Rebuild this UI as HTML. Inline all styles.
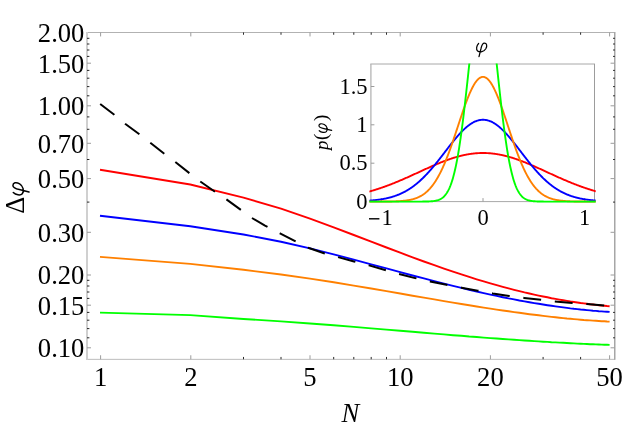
<!DOCTYPE html>
<html><head><meta charset="utf-8"><title>plot</title>
<style>html,body{margin:0;padding:0;background:#fff;}svg{display:block;will-change:transform;}text{font-family:"Liberation Serif",serif;fill:#000;}</style></head><body>
<svg width="623" height="428" viewBox="0 0 623 428">
<rect x="0" y="0" width="623" height="428" fill="#fff"/>
<clipPath id="ic"><rect x="369.4" y="63.5" width="226.3" height="139.6"/></clipPath>
<rect x="370.9" y="64.0" width="223.60000000000002" height="137.6" fill="#fff" stroke="none"/>
<line x1="370.29999999999995" x2="595.0" y1="64.0" y2="64.0" stroke="#a8a8a8" stroke-width="1"/>
<line x1="370.29999999999995" x2="595.0" y1="201.6" y2="201.6" stroke="#a8a8a8" stroke-width="1"/>
<line x1="370.9" x2="370.9" y1="64.0" y2="201.6" stroke="#b4b4b4" stroke-width="1.3"/>
<line x1="594.5" x2="594.5" y1="64.0" y2="201.6" stroke="#9c9c9c" stroke-width="1"/>
<line x1="370.9" x2="374.4" y1="163.2" y2="163.2" stroke="#9c9c9c" stroke-width="1"/>
<line x1="370.9" x2="374.4" y1="124.8" y2="124.8" stroke="#9c9c9c" stroke-width="1"/>
<line x1="370.9" x2="374.4" y1="86.5" y2="86.5" stroke="#9c9c9c" stroke-width="1"/>
<line x1="381.3" x2="381.3" y1="201.6" y2="198.1" stroke="#9c9c9c" stroke-width="1"/>
<line x1="483.0" x2="483.0" y1="201.6" y2="198.1" stroke="#9c9c9c" stroke-width="1"/>
<line x1="584.7" x2="584.7" y1="201.6" y2="198.1" stroke="#9c9c9c" stroke-width="1"/>
<path d="M368.59,191.73 L369.11,191.59 L369.63,191.44 L370.15,191.30 L370.67,191.15 L371.19,191.00 L371.71,190.85 L372.23,190.70 L372.75,190.54 L373.27,190.39 L373.79,190.23 L374.31,190.07 L374.83,189.91 L375.35,189.75 L375.87,189.59 L376.39,189.43 L376.91,189.26 L377.43,189.09 L377.95,188.93 L378.47,188.76 L378.99,188.59 L379.51,188.41 L380.03,188.24 L380.55,188.07 L381.07,187.89 L381.59,187.71 L382.11,187.53 L382.63,187.35 L383.15,187.17 L383.67,186.99 L384.19,186.80 L384.71,186.62 L385.23,186.43 L385.75,186.24 L386.27,186.05 L386.79,185.86 L387.31,185.67 L387.83,185.47 L388.35,185.28 L388.87,185.08 L389.39,184.88 L389.91,184.69 L390.43,184.49 L390.95,184.28 L391.47,184.08 L391.99,183.88 L392.51,183.67 L393.03,183.47 L393.55,183.26 L394.07,183.05 L394.59,182.84 L395.11,182.63 L395.63,182.42 L396.15,182.21 L396.67,181.99 L397.19,181.78 L397.71,181.56 L398.23,181.34 L398.75,181.13 L399.27,180.91 L399.79,180.69 L400.31,180.47 L400.83,180.24 L401.35,180.02 L401.87,179.80 L402.39,179.57 L402.91,179.35 L403.43,179.12 L403.95,178.90 L404.47,178.67 L404.99,178.44 L405.51,178.21 L406.03,177.98 L406.55,177.75 L407.07,177.52 L407.59,177.29 L408.11,177.05 L408.63,176.82 L409.15,176.59 L409.67,176.35 L410.19,176.12 L410.71,175.88 L411.23,175.65 L411.75,175.41 L412.27,175.17 L412.79,174.94 L413.31,174.70 L413.83,174.46 L414.35,174.22 L414.87,173.99 L415.39,173.75 L415.91,173.51 L416.43,173.27 L416.95,173.03 L417.47,172.79 L417.99,172.55 L418.51,172.31 L419.03,172.07 L419.55,171.83 L420.07,171.60 L420.59,171.36 L421.11,171.12 L421.63,170.88 L422.15,170.64 L422.67,170.40 L423.19,170.16 L423.71,169.92 L424.23,169.69 L424.75,169.45 L425.27,169.21 L425.79,168.98 L426.31,168.74 L426.83,168.50 L427.35,168.27 L427.87,168.03 L428.39,167.80 L428.91,167.57 L429.43,167.33 L429.95,167.10 L430.47,166.87 L430.99,166.64 L431.51,166.41 L432.03,166.18 L432.55,165.95 L433.07,165.72 L433.59,165.50 L434.11,165.27 L434.63,165.05 L435.15,164.82 L435.67,164.60 L436.19,164.38 L436.71,164.16 L437.24,163.94 L437.76,163.72 L438.28,163.51 L438.80,163.29 L439.32,163.08 L439.84,162.87 L440.36,162.66 L440.88,162.45 L441.40,162.24 L441.92,162.03 L442.44,161.83 L442.96,161.62 L443.48,161.42 L444.00,161.22 L444.52,161.02 L445.04,160.82 L445.56,160.63 L446.08,160.43 L446.60,160.24 L447.12,160.05 L447.64,159.87 L448.16,159.68 L448.68,159.50 L449.20,159.31 L449.72,159.13 L450.24,158.96 L450.76,158.78 L451.28,158.61 L451.80,158.43 L452.32,158.26 L452.84,158.10 L453.36,157.93 L453.88,157.77 L454.40,157.61 L454.92,157.45 L455.44,157.29 L455.96,157.14 L456.48,156.99 L457.00,156.84 L457.52,156.69 L458.04,156.55 L458.56,156.41 L459.08,156.27 L459.60,156.13 L460.12,156.00 L460.64,155.87 L461.16,155.74 L461.68,155.62 L462.20,155.49 L462.72,155.37 L463.24,155.26 L463.76,155.14 L464.28,155.03 L464.80,154.92 L465.32,154.81 L465.84,154.71 L466.36,154.61 L466.88,154.51 L467.40,154.42 L467.92,154.33 L468.44,154.24 L468.96,154.15 L469.48,154.07 L470.00,153.99 L470.52,153.91 L471.04,153.84 L471.56,153.77 L472.08,153.70 L472.60,153.63 L473.12,153.57 L473.64,153.51 L474.16,153.46 L474.68,153.41 L475.20,153.36 L475.72,153.31 L476.24,153.27 L476.76,153.23 L477.28,153.19 L477.80,153.16 L478.32,153.13 L478.84,153.10 L479.36,153.08 L479.88,153.06 L480.40,153.04 L480.92,153.02 L481.44,153.01 L481.96,153.01 L482.48,153.00 L483.00,153.00 L483.52,153.00 L484.04,153.01 L484.56,153.01 L485.08,153.02 L485.60,153.04 L486.12,153.06 L486.64,153.08 L487.16,153.10 L487.68,153.13 L488.20,153.16 L488.72,153.19 L489.24,153.23 L489.76,153.27 L490.28,153.31 L490.80,153.36 L491.32,153.41 L491.84,153.46 L492.36,153.51 L492.88,153.57 L493.40,153.63 L493.92,153.70 L494.44,153.77 L494.96,153.84 L495.48,153.91 L496.00,153.99 L496.52,154.07 L497.04,154.15 L497.56,154.24 L498.08,154.33 L498.60,154.42 L499.12,154.51 L499.64,154.61 L500.16,154.71 L500.68,154.81 L501.20,154.92 L501.72,155.03 L502.24,155.14 L502.76,155.26 L503.28,155.37 L503.80,155.49 L504.32,155.62 L504.84,155.74 L505.36,155.87 L505.88,156.00 L506.40,156.13 L506.92,156.27 L507.44,156.41 L507.96,156.55 L508.48,156.69 L509.00,156.84 L509.52,156.99 L510.04,157.14 L510.56,157.29 L511.08,157.45 L511.60,157.61 L512.12,157.77 L512.64,157.93 L513.16,158.10 L513.68,158.26 L514.20,158.43 L514.72,158.61 L515.24,158.78 L515.76,158.96 L516.28,159.13 L516.80,159.31 L517.32,159.50 L517.84,159.68 L518.36,159.87 L518.88,160.05 L519.40,160.24 L519.92,160.43 L520.44,160.63 L520.96,160.82 L521.48,161.02 L522.00,161.22 L522.52,161.42 L523.04,161.62 L523.56,161.83 L524.08,162.03 L524.60,162.24 L525.12,162.45 L525.64,162.66 L526.16,162.87 L526.68,163.08 L527.20,163.29 L527.72,163.51 L528.24,163.72 L528.76,163.94 L529.29,164.16 L529.81,164.38 L530.33,164.60 L530.85,164.82 L531.37,165.05 L531.89,165.27 L532.41,165.50 L532.93,165.72 L533.45,165.95 L533.97,166.18 L534.49,166.41 L535.01,166.64 L535.53,166.87 L536.05,167.10 L536.57,167.33 L537.09,167.57 L537.61,167.80 L538.13,168.03 L538.65,168.27 L539.17,168.50 L539.69,168.74 L540.21,168.98 L540.73,169.21 L541.25,169.45 L541.77,169.69 L542.29,169.92 L542.81,170.16 L543.33,170.40 L543.85,170.64 L544.37,170.88 L544.89,171.12 L545.41,171.36 L545.93,171.60 L546.45,171.83 L546.97,172.07 L547.49,172.31 L548.01,172.55 L548.53,172.79 L549.05,173.03 L549.57,173.27 L550.09,173.51 L550.61,173.75 L551.13,173.99 L551.65,174.22 L552.17,174.46 L552.69,174.70 L553.21,174.94 L553.73,175.17 L554.25,175.41 L554.77,175.65 L555.29,175.88 L555.81,176.12 L556.33,176.35 L556.85,176.59 L557.37,176.82 L557.89,177.05 L558.41,177.29 L558.93,177.52 L559.45,177.75 L559.97,177.98 L560.49,178.21 L561.01,178.44 L561.53,178.67 L562.05,178.90 L562.57,179.12 L563.09,179.35 L563.61,179.57 L564.13,179.80 L564.65,180.02 L565.17,180.24 L565.69,180.47 L566.21,180.69 L566.73,180.91 L567.25,181.13 L567.77,181.34 L568.29,181.56 L568.81,181.78 L569.33,181.99 L569.85,182.21 L570.37,182.42 L570.89,182.63 L571.41,182.84 L571.93,183.05 L572.45,183.26 L572.97,183.47 L573.49,183.67 L574.01,183.88 L574.53,184.08 L575.05,184.28 L575.57,184.49 L576.09,184.69 L576.61,184.88 L577.13,185.08 L577.65,185.28 L578.17,185.47 L578.69,185.67 L579.21,185.86 L579.73,186.05 L580.25,186.24 L580.77,186.43 L581.29,186.62 L581.81,186.80 L582.33,186.99 L582.85,187.17 L583.37,187.35 L583.89,187.53 L584.41,187.71 L584.93,187.89 L585.45,188.07 L585.97,188.24 L586.49,188.41 L587.01,188.59 L587.53,188.76 L588.05,188.93 L588.57,189.09 L589.09,189.26 L589.61,189.43 L590.13,189.59 L590.65,189.75 L591.17,189.91 L591.69,190.07 L592.21,190.23 L592.73,190.39 L593.25,190.54 L593.77,190.70 L594.29,190.85 L594.81,191.00 L595.33,191.15 L595.85,191.30 L596.37,191.44 L596.89,191.59 L597.41,191.73" fill="none" stroke="#ff0000" stroke-width="1.9" stroke-linejoin="round" clip-path="url(#ic)"/>
<path d="M368.59,200.71 L369.11,200.67 L369.63,200.63 L370.15,200.59 L370.67,200.55 L371.19,200.51 L371.71,200.46 L372.23,200.42 L372.75,200.37 L373.27,200.32 L373.79,200.27 L374.31,200.21 L374.83,200.16 L375.35,200.10 L375.87,200.04 L376.39,199.98 L376.91,199.92 L377.43,199.85 L377.95,199.79 L378.47,199.72 L378.99,199.65 L379.51,199.57 L380.03,199.50 L380.55,199.42 L381.07,199.34 L381.59,199.25 L382.11,199.16 L382.63,199.07 L383.15,198.98 L383.67,198.89 L384.19,198.79 L384.71,198.69 L385.23,198.58 L385.75,198.48 L386.27,198.36 L386.79,198.25 L387.31,198.13 L387.83,198.01 L388.35,197.89 L388.87,197.76 L389.39,197.63 L389.91,197.49 L390.43,197.35 L390.95,197.21 L391.47,197.06 L391.99,196.91 L392.51,196.76 L393.03,196.60 L393.55,196.43 L394.07,196.27 L394.59,196.09 L395.11,195.92 L395.63,195.73 L396.15,195.55 L396.67,195.36 L397.19,195.16 L397.71,194.96 L398.23,194.75 L398.75,194.54 L399.27,194.33 L399.79,194.11 L400.31,193.88 L400.83,193.65 L401.35,193.41 L401.87,193.17 L402.39,192.92 L402.91,192.66 L403.43,192.40 L403.95,192.14 L404.47,191.87 L404.99,191.59 L405.51,191.31 L406.03,191.02 L406.55,190.72 L407.07,190.42 L407.59,190.11 L408.11,189.80 L408.63,189.48 L409.15,189.15 L409.67,188.82 L410.19,188.48 L410.71,188.13 L411.23,187.78 L411.75,187.42 L412.27,187.05 L412.79,186.68 L413.31,186.30 L413.83,185.91 L414.35,185.52 L414.87,185.12 L415.39,184.71 L415.91,184.30 L416.43,183.88 L416.95,183.45 L417.47,183.02 L417.99,182.58 L418.51,182.13 L419.03,181.68 L419.55,181.21 L420.07,180.75 L420.59,180.27 L421.11,179.79 L421.63,179.30 L422.15,178.81 L422.67,178.31 L423.19,177.80 L423.71,177.28 L424.23,176.76 L424.75,176.24 L425.27,175.70 L425.79,175.16 L426.31,174.62 L426.83,174.06 L427.35,173.51 L427.87,172.94 L428.39,172.37 L428.91,171.80 L429.43,171.21 L429.95,170.63 L430.47,170.03 L430.99,169.44 L431.51,168.83 L432.03,168.22 L432.55,167.61 L433.07,166.99 L433.59,166.37 L434.11,165.74 L434.63,165.11 L435.15,164.48 L435.67,163.84 L436.19,163.19 L436.71,162.55 L437.24,161.89 L437.76,161.24 L438.28,160.58 L438.80,159.92 L439.32,159.26 L439.84,158.59 L440.36,157.93 L440.88,157.26 L441.40,156.59 L441.92,155.91 L442.44,155.24 L442.96,154.56 L443.48,153.88 L444.00,153.21 L444.52,152.53 L445.04,151.85 L445.56,151.17 L446.08,150.49 L446.60,149.82 L447.12,149.14 L447.64,148.47 L448.16,147.79 L448.68,147.12 L449.20,146.45 L449.72,145.78 L450.24,145.11 L450.76,144.45 L451.28,143.79 L451.80,143.13 L452.32,142.48 L452.84,141.83 L453.36,141.19 L453.88,140.55 L454.40,139.91 L454.92,139.28 L455.44,138.65 L455.96,138.03 L456.48,137.42 L457.00,136.81 L457.52,136.21 L458.04,135.61 L458.56,135.03 L459.08,134.45 L459.60,133.87 L460.12,133.31 L460.64,132.75 L461.16,132.20 L461.68,131.66 L462.20,131.13 L462.72,130.61 L463.24,130.10 L463.76,129.59 L464.28,129.10 L464.80,128.62 L465.32,128.15 L465.84,127.69 L466.36,127.24 L466.88,126.80 L467.40,126.37 L467.92,125.95 L468.44,125.55 L468.96,125.16 L469.48,124.78 L470.00,124.41 L470.52,124.06 L471.04,123.72 L471.56,123.39 L472.08,123.08 L472.60,122.77 L473.12,122.49 L473.64,122.21 L474.16,121.95 L474.68,121.71 L475.20,121.48 L475.72,121.26 L476.24,121.06 L476.76,120.87 L477.28,120.69 L477.80,120.54 L478.32,120.39 L478.84,120.26 L479.36,120.15 L479.88,120.05 L480.40,119.97 L480.92,119.90 L481.44,119.84 L481.96,119.81 L482.48,119.78 L483.00,119.78 L483.52,119.78 L484.04,119.81 L484.56,119.84 L485.08,119.90 L485.60,119.97 L486.12,120.05 L486.64,120.15 L487.16,120.26 L487.68,120.39 L488.20,120.54 L488.72,120.69 L489.24,120.87 L489.76,121.06 L490.28,121.26 L490.80,121.48 L491.32,121.71 L491.84,121.95 L492.36,122.21 L492.88,122.49 L493.40,122.77 L493.92,123.08 L494.44,123.39 L494.96,123.72 L495.48,124.06 L496.00,124.41 L496.52,124.78 L497.04,125.16 L497.56,125.55 L498.08,125.95 L498.60,126.37 L499.12,126.80 L499.64,127.24 L500.16,127.69 L500.68,128.15 L501.20,128.62 L501.72,129.10 L502.24,129.59 L502.76,130.10 L503.28,130.61 L503.80,131.13 L504.32,131.66 L504.84,132.20 L505.36,132.75 L505.88,133.31 L506.40,133.87 L506.92,134.45 L507.44,135.03 L507.96,135.61 L508.48,136.21 L509.00,136.81 L509.52,137.42 L510.04,138.03 L510.56,138.65 L511.08,139.28 L511.60,139.91 L512.12,140.55 L512.64,141.19 L513.16,141.83 L513.68,142.48 L514.20,143.13 L514.72,143.79 L515.24,144.45 L515.76,145.11 L516.28,145.78 L516.80,146.45 L517.32,147.12 L517.84,147.79 L518.36,148.47 L518.88,149.14 L519.40,149.82 L519.92,150.49 L520.44,151.17 L520.96,151.85 L521.48,152.53 L522.00,153.21 L522.52,153.88 L523.04,154.56 L523.56,155.24 L524.08,155.91 L524.60,156.59 L525.12,157.26 L525.64,157.93 L526.16,158.59 L526.68,159.26 L527.20,159.92 L527.72,160.58 L528.24,161.24 L528.76,161.89 L529.29,162.55 L529.81,163.19 L530.33,163.84 L530.85,164.48 L531.37,165.11 L531.89,165.74 L532.41,166.37 L532.93,166.99 L533.45,167.61 L533.97,168.22 L534.49,168.83 L535.01,169.44 L535.53,170.03 L536.05,170.63 L536.57,171.21 L537.09,171.80 L537.61,172.37 L538.13,172.94 L538.65,173.51 L539.17,174.06 L539.69,174.62 L540.21,175.16 L540.73,175.70 L541.25,176.24 L541.77,176.76 L542.29,177.28 L542.81,177.80 L543.33,178.31 L543.85,178.81 L544.37,179.30 L544.89,179.79 L545.41,180.27 L545.93,180.75 L546.45,181.21 L546.97,181.68 L547.49,182.13 L548.01,182.58 L548.53,183.02 L549.05,183.45 L549.57,183.88 L550.09,184.30 L550.61,184.71 L551.13,185.12 L551.65,185.52 L552.17,185.91 L552.69,186.30 L553.21,186.68 L553.73,187.05 L554.25,187.42 L554.77,187.78 L555.29,188.13 L555.81,188.48 L556.33,188.82 L556.85,189.15 L557.37,189.48 L557.89,189.80 L558.41,190.11 L558.93,190.42 L559.45,190.72 L559.97,191.02 L560.49,191.31 L561.01,191.59 L561.53,191.87 L562.05,192.14 L562.57,192.40 L563.09,192.66 L563.61,192.92 L564.13,193.17 L564.65,193.41 L565.17,193.65 L565.69,193.88 L566.21,194.11 L566.73,194.33 L567.25,194.54 L567.77,194.75 L568.29,194.96 L568.81,195.16 L569.33,195.36 L569.85,195.55 L570.37,195.73 L570.89,195.92 L571.41,196.09 L571.93,196.27 L572.45,196.43 L572.97,196.60 L573.49,196.76 L574.01,196.91 L574.53,197.06 L575.05,197.21 L575.57,197.35 L576.09,197.49 L576.61,197.63 L577.13,197.76 L577.65,197.89 L578.17,198.01 L578.69,198.13 L579.21,198.25 L579.73,198.36 L580.25,198.48 L580.77,198.58 L581.29,198.69 L581.81,198.79 L582.33,198.89 L582.85,198.98 L583.37,199.07 L583.89,199.16 L584.41,199.25 L584.93,199.34 L585.45,199.42 L585.97,199.50 L586.49,199.57 L587.01,199.65 L587.53,199.72 L588.05,199.79 L588.57,199.85 L589.09,199.92 L589.61,199.98 L590.13,200.04 L590.65,200.10 L591.17,200.16 L591.69,200.21 L592.21,200.27 L592.73,200.32 L593.25,200.37 L593.77,200.42 L594.29,200.46 L594.81,200.51 L595.33,200.55 L595.85,200.59 L596.37,200.63 L596.89,200.67 L597.41,200.71" fill="none" stroke="#0000ff" stroke-width="1.9" stroke-linejoin="round" clip-path="url(#ic)"/>
<path d="M368.59,201.60 L369.11,201.60 L369.63,201.60 L370.15,201.60 L370.67,201.59 L371.19,201.59 L371.71,201.59 L372.23,201.59 L372.75,201.59 L373.27,201.59 L373.79,201.59 L374.31,201.59 L374.83,201.59 L375.35,201.59 L375.87,201.59 L376.39,201.59 L376.91,201.59 L377.43,201.58 L377.95,201.58 L378.47,201.58 L378.99,201.58 L379.51,201.58 L380.03,201.57 L380.55,201.57 L381.07,201.57 L381.59,201.57 L382.11,201.56 L382.63,201.56 L383.15,201.56 L383.67,201.55 L384.19,201.55 L384.71,201.55 L385.23,201.54 L385.75,201.54 L386.27,201.53 L386.79,201.53 L387.31,201.52 L387.83,201.51 L388.35,201.51 L388.87,201.50 L389.39,201.49 L389.91,201.48 L390.43,201.47 L390.95,201.46 L391.47,201.45 L391.99,201.44 L392.51,201.42 L393.03,201.41 L393.55,201.40 L394.07,201.38 L394.59,201.36 L395.11,201.35 L395.63,201.33 L396.15,201.31 L396.67,201.28 L397.19,201.26 L397.71,201.24 L398.23,201.21 L398.75,201.18 L399.27,201.15 L399.79,201.12 L400.31,201.08 L400.83,201.05 L401.35,201.01 L401.87,200.96 L402.39,200.92 L402.91,200.87 L403.43,200.82 L403.95,200.77 L404.47,200.71 L404.99,200.65 L405.51,200.59 L406.03,200.52 L406.55,200.45 L407.07,200.38 L407.59,200.30 L408.11,200.21 L408.63,200.12 L409.15,200.03 L409.67,199.93 L410.19,199.82 L410.71,199.71 L411.23,199.60 L411.75,199.47 L412.27,199.34 L412.79,199.21 L413.31,199.06 L413.83,198.91 L414.35,198.75 L414.87,198.59 L415.39,198.41 L415.91,198.23 L416.43,198.03 L416.95,197.83 L417.47,197.62 L417.99,197.39 L418.51,197.16 L419.03,196.92 L419.55,196.66 L420.07,196.39 L420.59,196.11 L421.11,195.82 L421.63,195.52 L422.15,195.20 L422.67,194.87 L423.19,194.52 L423.71,194.16 L424.23,193.78 L424.75,193.39 L425.27,192.99 L425.79,192.56 L426.31,192.12 L426.83,191.67 L427.35,191.19 L427.87,190.70 L428.39,190.19 L428.91,189.66 L429.43,189.11 L429.95,188.55 L430.47,187.96 L430.99,187.35 L431.51,186.72 L432.03,186.07 L432.55,185.40 L433.07,184.71 L433.59,183.99 L434.11,183.26 L434.63,182.50 L435.15,181.72 L435.67,180.91 L436.19,180.08 L436.71,179.23 L437.24,178.35 L437.76,177.45 L438.28,176.53 L438.80,175.58 L439.32,174.61 L439.84,173.62 L440.36,172.60 L440.88,171.55 L441.40,170.48 L441.92,169.39 L442.44,168.28 L442.96,167.14 L443.48,165.97 L444.00,164.79 L444.52,163.58 L445.04,162.35 L445.56,161.09 L446.08,159.82 L446.60,158.52 L447.12,157.20 L447.64,155.86 L448.16,154.50 L448.68,153.12 L449.20,151.72 L449.72,150.31 L450.24,148.88 L450.76,147.43 L451.28,145.96 L451.80,144.48 L452.32,142.99 L452.84,141.48 L453.36,139.96 L453.88,138.43 L454.40,136.89 L454.92,135.35 L455.44,133.79 L455.96,132.23 L456.48,130.66 L457.00,129.09 L457.52,127.51 L458.04,125.94 L458.56,124.36 L459.08,122.79 L459.60,121.22 L460.12,119.65 L460.64,118.09 L461.16,116.54 L461.68,114.99 L462.20,113.46 L462.72,111.93 L463.24,110.42 L463.76,108.93 L464.28,107.45 L464.80,105.99 L465.32,104.54 L465.84,103.12 L466.36,101.72 L466.88,100.35 L467.40,99.00 L467.92,97.68 L468.44,96.39 L468.96,95.12 L469.48,93.89 L470.00,92.69 L470.52,91.53 L471.04,90.40 L471.56,89.31 L472.08,88.26 L472.60,87.25 L473.12,86.27 L473.64,85.34 L474.16,84.46 L474.68,83.62 L475.20,82.82 L475.72,82.07 L476.24,81.37 L476.76,80.72 L477.28,80.11 L477.80,79.56 L478.32,79.05 L478.84,78.60 L479.36,78.20 L479.88,77.85 L480.40,77.55 L480.92,77.31 L481.44,77.12 L481.96,76.99 L482.48,76.91 L483.00,76.88 L483.52,76.91 L484.04,76.99 L484.56,77.12 L485.08,77.31 L485.60,77.55 L486.12,77.85 L486.64,78.20 L487.16,78.60 L487.68,79.05 L488.20,79.56 L488.72,80.11 L489.24,80.72 L489.76,81.37 L490.28,82.07 L490.80,82.82 L491.32,83.62 L491.84,84.46 L492.36,85.34 L492.88,86.27 L493.40,87.25 L493.92,88.26 L494.44,89.31 L494.96,90.40 L495.48,91.53 L496.00,92.69 L496.52,93.89 L497.04,95.12 L497.56,96.39 L498.08,97.68 L498.60,99.00 L499.12,100.35 L499.64,101.72 L500.16,103.12 L500.68,104.54 L501.20,105.99 L501.72,107.45 L502.24,108.93 L502.76,110.42 L503.28,111.93 L503.80,113.46 L504.32,114.99 L504.84,116.54 L505.36,118.09 L505.88,119.65 L506.40,121.22 L506.92,122.79 L507.44,124.36 L507.96,125.94 L508.48,127.51 L509.00,129.09 L509.52,130.66 L510.04,132.23 L510.56,133.79 L511.08,135.35 L511.60,136.89 L512.12,138.43 L512.64,139.96 L513.16,141.48 L513.68,142.99 L514.20,144.48 L514.72,145.96 L515.24,147.43 L515.76,148.88 L516.28,150.31 L516.80,151.72 L517.32,153.12 L517.84,154.50 L518.36,155.86 L518.88,157.20 L519.40,158.52 L519.92,159.82 L520.44,161.09 L520.96,162.35 L521.48,163.58 L522.00,164.79 L522.52,165.97 L523.04,167.14 L523.56,168.28 L524.08,169.39 L524.60,170.48 L525.12,171.55 L525.64,172.60 L526.16,173.62 L526.68,174.61 L527.20,175.58 L527.72,176.53 L528.24,177.45 L528.76,178.35 L529.29,179.23 L529.81,180.08 L530.33,180.91 L530.85,181.72 L531.37,182.50 L531.89,183.26 L532.41,183.99 L532.93,184.71 L533.45,185.40 L533.97,186.07 L534.49,186.72 L535.01,187.35 L535.53,187.96 L536.05,188.55 L536.57,189.11 L537.09,189.66 L537.61,190.19 L538.13,190.70 L538.65,191.19 L539.17,191.67 L539.69,192.12 L540.21,192.56 L540.73,192.99 L541.25,193.39 L541.77,193.78 L542.29,194.16 L542.81,194.52 L543.33,194.87 L543.85,195.20 L544.37,195.52 L544.89,195.82 L545.41,196.11 L545.93,196.39 L546.45,196.66 L546.97,196.92 L547.49,197.16 L548.01,197.39 L548.53,197.62 L549.05,197.83 L549.57,198.03 L550.09,198.23 L550.61,198.41 L551.13,198.59 L551.65,198.75 L552.17,198.91 L552.69,199.06 L553.21,199.21 L553.73,199.34 L554.25,199.47 L554.77,199.60 L555.29,199.71 L555.81,199.82 L556.33,199.93 L556.85,200.03 L557.37,200.12 L557.89,200.21 L558.41,200.30 L558.93,200.38 L559.45,200.45 L559.97,200.52 L560.49,200.59 L561.01,200.65 L561.53,200.71 L562.05,200.77 L562.57,200.82 L563.09,200.87 L563.61,200.92 L564.13,200.96 L564.65,201.01 L565.17,201.05 L565.69,201.08 L566.21,201.12 L566.73,201.15 L567.25,201.18 L567.77,201.21 L568.29,201.24 L568.81,201.26 L569.33,201.28 L569.85,201.31 L570.37,201.33 L570.89,201.35 L571.41,201.36 L571.93,201.38 L572.45,201.40 L572.97,201.41 L573.49,201.42 L574.01,201.44 L574.53,201.45 L575.05,201.46 L575.57,201.47 L576.09,201.48 L576.61,201.49 L577.13,201.50 L577.65,201.51 L578.17,201.51 L578.69,201.52 L579.21,201.53 L579.73,201.53 L580.25,201.54 L580.77,201.54 L581.29,201.55 L581.81,201.55 L582.33,201.55 L582.85,201.56 L583.37,201.56 L583.89,201.56 L584.41,201.57 L584.93,201.57 L585.45,201.57 L585.97,201.57 L586.49,201.58 L587.01,201.58 L587.53,201.58 L588.05,201.58 L588.57,201.58 L589.09,201.59 L589.61,201.59 L590.13,201.59 L590.65,201.59 L591.17,201.59 L591.69,201.59 L592.21,201.59 L592.73,201.59 L593.25,201.59 L593.77,201.59 L594.29,201.59 L594.81,201.59 L595.33,201.59 L595.85,201.60 L596.37,201.60 L596.89,201.60 L597.41,201.60" fill="none" stroke="#ff8000" stroke-width="1.9" stroke-linejoin="round" clip-path="url(#ic)"/>
<path d="M368.59,201.60 L369.11,201.60 L369.63,201.60 L370.15,201.60 L370.67,201.60 L371.19,201.60 L371.71,201.60 L372.23,201.60 L372.75,201.60 L373.27,201.60 L373.79,201.60 L374.31,201.60 L374.83,201.60 L375.35,201.60 L375.87,201.60 L376.39,201.60 L376.91,201.60 L377.43,201.60 L377.95,201.60 L378.47,201.60 L378.99,201.60 L379.51,201.60 L380.03,201.60 L380.55,201.60 L381.07,201.60 L381.59,201.60 L382.11,201.60 L382.63,201.60 L383.15,201.60 L383.67,201.60 L384.19,201.60 L384.71,201.60 L385.23,201.60 L385.75,201.60 L386.27,201.60 L386.79,201.60 L387.31,201.60 L387.83,201.60 L388.35,201.60 L388.87,201.60 L389.39,201.60 L389.91,201.60 L390.43,201.60 L390.95,201.60 L391.47,201.60 L391.99,201.60 L392.51,201.60 L393.03,201.60 L393.55,201.60 L394.07,201.60 L394.59,201.60 L395.11,201.60 L395.63,201.60 L396.15,201.60 L396.67,201.60 L397.19,201.60 L397.71,201.60 L398.23,201.60 L398.75,201.60 L399.27,201.60 L399.79,201.60 L400.31,201.60 L400.83,201.60 L401.35,201.60 L401.87,201.60 L402.39,201.60 L402.91,201.60 L403.43,201.60 L403.95,201.60 L404.47,201.60 L404.99,201.60 L405.51,201.60 L406.03,201.60 L406.55,201.60 L407.07,201.60 L407.59,201.60 L408.11,201.60 L408.63,201.60 L409.15,201.60 L409.67,201.60 L410.19,201.60 L410.71,201.60 L411.23,201.60 L411.75,201.60 L412.27,201.60 L412.79,201.60 L413.31,201.60 L413.83,201.60 L414.35,201.60 L414.87,201.60 L415.39,201.60 L415.91,201.60 L416.43,201.60 L416.95,201.60 L417.47,201.59 L417.99,201.59 L418.51,201.59 L419.03,201.59 L419.55,201.59 L420.07,201.59 L420.59,201.59 L421.11,201.58 L421.63,201.58 L422.15,201.58 L422.67,201.57 L423.19,201.57 L423.71,201.56 L424.23,201.56 L424.75,201.55 L425.27,201.54 L425.79,201.53 L426.31,201.52 L426.83,201.51 L427.35,201.49 L427.87,201.48 L428.39,201.46 L428.91,201.44 L429.43,201.42 L429.95,201.39 L430.47,201.36 L430.99,201.32 L431.51,201.28 L432.03,201.24 L432.55,201.19 L433.07,201.13 L433.59,201.07 L434.11,201.00 L434.63,200.92 L435.15,200.83 L435.67,200.73 L436.19,200.62 L436.71,200.49 L437.24,200.35 L437.76,200.20 L438.28,200.03 L438.80,199.84 L439.32,199.62 L439.84,199.39 L440.36,199.13 L440.88,198.85 L441.40,198.54 L441.92,198.20 L442.44,197.82 L442.96,197.41 L443.48,196.96 L444.00,196.47 L444.52,195.93 L445.04,195.35 L445.56,194.71 L446.08,194.02 L446.60,193.28 L447.12,192.47 L447.64,191.59 L448.16,190.65 L448.68,189.64 L449.20,188.54 L449.72,187.37 L450.24,186.11 L450.76,184.76 L451.28,183.32 L451.80,181.79 L452.32,180.15 L452.84,178.41 L453.36,176.56 L453.88,174.60 L454.40,172.53 L454.92,170.33 L455.44,168.02 L455.96,165.58 L456.48,163.02 L457.00,160.33 L457.52,157.52 L458.04,154.57 L458.56,151.49 L459.08,148.29 L459.60,144.95 L460.12,141.48 L460.64,137.89 L461.16,134.18 L461.68,130.34 L462.20,126.38 L462.72,122.31 L463.24,118.13 L463.76,113.85 L464.28,109.47 L464.80,105.00 L465.32,100.45 L465.84,95.83 L466.36,91.14 L466.88,86.40 L467.40,81.62 L467.92,76.80 L468.44,71.96 L468.96,67.12 L469.48,62.28 L470.00,57.46 L470.52,52.67 L471.04,47.92 L471.56,43.24 L472.08,38.63 L472.60,34.11 L473.12,29.70 L473.64,25.40 L474.16,21.24 L474.68,17.23 L475.20,13.38 L475.72,9.70 L476.24,6.21 L476.76,2.93 L477.28,-0.15 L477.80,-2.99 L478.32,-5.60 L478.84,-7.97 L479.36,-10.07 L479.88,-11.92 L480.40,-13.49 L480.92,-14.78 L481.44,-15.80 L481.96,-16.52 L482.48,-16.96 L483.00,-17.11 L483.52,-16.96 L484.04,-16.52 L484.56,-15.80 L485.08,-14.78 L485.60,-13.49 L486.12,-11.92 L486.64,-10.07 L487.16,-7.97 L487.68,-5.60 L488.20,-2.99 L488.72,-0.15 L489.24,2.93 L489.76,6.21 L490.28,9.70 L490.80,13.38 L491.32,17.23 L491.84,21.24 L492.36,25.40 L492.88,29.70 L493.40,34.11 L493.92,38.63 L494.44,43.24 L494.96,47.92 L495.48,52.67 L496.00,57.46 L496.52,62.28 L497.04,67.12 L497.56,71.96 L498.08,76.80 L498.60,81.62 L499.12,86.40 L499.64,91.14 L500.16,95.83 L500.68,100.45 L501.20,105.00 L501.72,109.47 L502.24,113.85 L502.76,118.13 L503.28,122.31 L503.80,126.38 L504.32,130.34 L504.84,134.18 L505.36,137.89 L505.88,141.48 L506.40,144.95 L506.92,148.29 L507.44,151.49 L507.96,154.57 L508.48,157.52 L509.00,160.33 L509.52,163.02 L510.04,165.58 L510.56,168.02 L511.08,170.33 L511.60,172.53 L512.12,174.60 L512.64,176.56 L513.16,178.41 L513.68,180.15 L514.20,181.79 L514.72,183.32 L515.24,184.76 L515.76,186.11 L516.28,187.37 L516.80,188.54 L517.32,189.64 L517.84,190.65 L518.36,191.59 L518.88,192.47 L519.40,193.28 L519.92,194.02 L520.44,194.71 L520.96,195.35 L521.48,195.93 L522.00,196.47 L522.52,196.96 L523.04,197.41 L523.56,197.82 L524.08,198.20 L524.60,198.54 L525.12,198.85 L525.64,199.13 L526.16,199.39 L526.68,199.62 L527.20,199.84 L527.72,200.03 L528.24,200.20 L528.76,200.35 L529.29,200.49 L529.81,200.62 L530.33,200.73 L530.85,200.83 L531.37,200.92 L531.89,201.00 L532.41,201.07 L532.93,201.13 L533.45,201.19 L533.97,201.24 L534.49,201.28 L535.01,201.32 L535.53,201.36 L536.05,201.39 L536.57,201.42 L537.09,201.44 L537.61,201.46 L538.13,201.48 L538.65,201.49 L539.17,201.51 L539.69,201.52 L540.21,201.53 L540.73,201.54 L541.25,201.55 L541.77,201.56 L542.29,201.56 L542.81,201.57 L543.33,201.57 L543.85,201.58 L544.37,201.58 L544.89,201.58 L545.41,201.59 L545.93,201.59 L546.45,201.59 L546.97,201.59 L547.49,201.59 L548.01,201.59 L548.53,201.59 L549.05,201.60 L549.57,201.60 L550.09,201.60 L550.61,201.60 L551.13,201.60 L551.65,201.60 L552.17,201.60 L552.69,201.60 L553.21,201.60 L553.73,201.60 L554.25,201.60 L554.77,201.60 L555.29,201.60 L555.81,201.60 L556.33,201.60 L556.85,201.60 L557.37,201.60 L557.89,201.60 L558.41,201.60 L558.93,201.60 L559.45,201.60 L559.97,201.60 L560.49,201.60 L561.01,201.60 L561.53,201.60 L562.05,201.60 L562.57,201.60 L563.09,201.60 L563.61,201.60 L564.13,201.60 L564.65,201.60 L565.17,201.60 L565.69,201.60 L566.21,201.60 L566.73,201.60 L567.25,201.60 L567.77,201.60 L568.29,201.60 L568.81,201.60 L569.33,201.60 L569.85,201.60 L570.37,201.60 L570.89,201.60 L571.41,201.60 L571.93,201.60 L572.45,201.60 L572.97,201.60 L573.49,201.60 L574.01,201.60 L574.53,201.60 L575.05,201.60 L575.57,201.60 L576.09,201.60 L576.61,201.60 L577.13,201.60 L577.65,201.60 L578.17,201.60 L578.69,201.60 L579.21,201.60 L579.73,201.60 L580.25,201.60 L580.77,201.60 L581.29,201.60 L581.81,201.60 L582.33,201.60 L582.85,201.60 L583.37,201.60 L583.89,201.60 L584.41,201.60 L584.93,201.60 L585.45,201.60 L585.97,201.60 L586.49,201.60 L587.01,201.60 L587.53,201.60 L588.05,201.60 L588.57,201.60 L589.09,201.60 L589.61,201.60 L590.13,201.60 L590.65,201.60 L591.17,201.60 L591.69,201.60 L592.21,201.60 L592.73,201.60 L593.25,201.60 L593.77,201.60 L594.29,201.60 L594.81,201.60 L595.33,201.60 L595.85,201.60 L596.37,201.60 L596.89,201.60 L597.41,201.60" fill="none" stroke="#00ff00" stroke-width="1.9" stroke-linejoin="round" clip-path="url(#ic)"/>
<path d="M100.0,169.8 L190.3,184.5 L243.5,197.6 L281.0,208.6 L310.0,218.6 L333.7,227.3 L353.8,235.0 L371.2,241.7 L386.5,247.5 L400.2,252.7 L412.6,257.4 L423.9,261.5 L434.3,265.2 L444.0,268.6 L453.0,271.6 L461.4,274.4 L469.2,276.9 L476.7,279.3 L483.7,281.4 L490.4,283.4 L496.7,285.2 L502.8,286.8 L508.6,288.4 L514.1,289.8 L519.4,291.1 L524.5,292.4 L529.4,293.5 L534.2,294.6 L538.7,295.6 L543.1,296.5 L547.4,297.3 L551.5,298.2 L555.5,298.9 L559.4,299.6 L563.2,300.3 L566.9,300.9 L570.4,301.5 L573.9,302.0 L577.3,302.5 L580.6,303.0 L583.8,303.4 L586.9,303.8 L590.0,304.2 L593.0,304.5 L595.9,304.9 L598.8,305.2 L601.6,305.5 L604.3,305.7 L607.0,306.0 L609.6,306.2" fill="none" stroke="#ff0000" stroke-width="1.9" stroke-linejoin="round" />
<path d="M100.0,215.8 L190.3,226.3 L243.5,234.5 L281.0,241.7 L310.0,248.4 L333.7,254.4 L353.8,259.6 L371.2,264.3 L386.5,268.4 L400.2,272.1 L412.6,275.5 L423.9,278.4 L434.3,281.1 L444.0,283.6 L453.0,285.9 L461.4,287.9 L469.2,289.8 L476.7,291.5 L483.7,293.1 L490.4,294.6 L496.7,295.9 L502.8,297.2 L508.6,298.4 L514.1,299.4 L519.4,300.5 L524.5,301.4 L529.4,302.3 L534.2,303.1 L538.7,303.8 L543.1,304.5 L547.4,305.2 L551.5,305.8 L555.5,306.4 L559.4,306.9 L563.2,307.4 L566.9,307.9 L570.4,308.4 L573.9,308.8 L577.3,309.1 L580.6,309.5 L583.8,309.8 L586.9,310.1 L590.0,310.4 L593.0,310.7 L595.9,310.9 L598.8,311.2 L601.6,311.4 L604.3,311.6 L607.0,311.7 L609.6,311.9" fill="none" stroke="#0000ff" stroke-width="1.9" stroke-linejoin="round" />
<path d="M100.0,256.9 L190.3,263.9 L243.5,269.8 L281.0,274.5 L310.0,278.6 L333.7,282.3 L353.8,285.6 L371.2,288.5 L386.5,291.1 L400.2,293.5 L412.6,295.7 L423.9,297.6 L434.3,299.4 L444.0,301.1 L453.0,302.6 L461.4,304.0 L469.2,305.3 L476.7,306.5 L483.7,307.6 L490.4,308.6 L496.7,309.6 L502.8,310.5 L508.6,311.3 L514.1,312.1 L519.4,312.8 L524.5,313.5 L529.4,314.2 L534.2,314.8 L538.7,315.3 L543.1,315.9 L547.4,316.4 L551.5,316.9 L555.5,317.3 L559.4,317.7 L563.2,318.1 L566.9,318.5 L570.4,318.8 L573.9,319.1 L577.3,319.4 L580.6,319.7 L583.8,320.0 L586.9,320.2 L590.0,320.4 L593.0,320.6 L595.9,320.8 L598.8,321.0 L601.6,321.2 L604.3,321.3 L607.0,321.5 L609.6,321.6" fill="none" stroke="#ff8000" stroke-width="1.9" stroke-linejoin="round" />
<path d="M100.0,312.6 L190.3,315.1 L243.5,319.0 L281.0,321.4 L310.0,323.5 L333.7,325.3 L353.8,326.9 L371.2,328.4 L386.5,329.6 L400.2,330.8 L412.6,331.8 L423.9,332.8 L434.3,333.6 L444.0,334.4 L453.0,335.2 L461.4,335.8 L469.2,336.5 L476.7,337.0 L483.7,337.6 L490.4,338.1 L496.7,338.5 L502.8,339.0 L508.6,339.4 L514.1,339.8 L519.4,340.1 L524.5,340.5 L529.4,340.8 L534.2,341.1 L538.7,341.4 L543.1,341.7 L547.4,341.9 L551.5,342.2 L555.5,342.4 L559.4,342.6 L563.2,342.8 L566.9,343.0 L570.4,343.2 L573.9,343.4 L577.3,343.6 L580.6,343.7 L583.8,343.9 L586.9,344.0 L590.0,344.2 L593.0,344.3 L595.9,344.4 L598.8,344.5 L601.6,344.6 L604.3,344.7 L607.0,344.8 L609.6,344.9" fill="none" stroke="#00ff00" stroke-width="1.9" stroke-linejoin="round" />
<path d="M100.2,104.0 L114.3,114.7 L125.1,123.8 L139.4,134.3 L149.6,142.1 L164.4,153.9 L175.2,161.9 L189.5,173.2 L200.3,181.5 L214.6,191.5 L225.3,198.5 L251.3,217.6 L265.0,225.6 L280.0,233.4 L295.6,241.4 L308.9,248.0 L324.0,253.2 L339.0,257.4 L354.0,261.5 L369.0,265.4 L398.8,273.9 L415.1,278.1 L430.1,281.4 L446.4,284.7 L461.5,287.7 L477.7,290.7 L492.8,293.5 L509.1,296.0 L524.1,297.9 L540.9,299.8 L554.7,301.4 L572.3,302.9 L586.8,304.1 L604.4,305.6" fill="none" stroke="#000000" stroke-width="2.0" stroke-linejoin="round" stroke-dasharray="17.9 13.75"/>
<line x1="86.0" x2="615.05" y1="32.5" y2="32.5" stroke="#b2b2b2" stroke-width="1"/>
<line x1="86.0" x2="615.05" y1="359.35" y2="359.35" stroke="#bcbcbc" stroke-width="1"/>
<line x1="87.0" x2="87.0" y1="32" y2="359.8" stroke="#d0d0d0" stroke-width="2"/>
<line x1="614.75" x2="614.75" y1="32" y2="359.8" stroke="#a6a6a6" stroke-width="1.5"/>
<line x1="100.6" x2="100.6" y1="359.25" y2="355.25" stroke="#9c9c9c" stroke-width="1"/>
<line x1="100.6" x2="100.6" y1="32.45" y2="36.45" stroke="#9c9c9c" stroke-width="1"/>
<line x1="190.8" x2="190.8" y1="359.25" y2="355.25" stroke="#9c9c9c" stroke-width="1"/>
<line x1="190.8" x2="190.8" y1="32.45" y2="36.45" stroke="#9c9c9c" stroke-width="1"/>
<line x1="310.0" x2="310.0" y1="359.25" y2="355.25" stroke="#9c9c9c" stroke-width="1"/>
<line x1="310.0" x2="310.0" y1="32.45" y2="36.45" stroke="#9c9c9c" stroke-width="1"/>
<line x1="400.2" x2="400.2" y1="359.25" y2="355.25" stroke="#9c9c9c" stroke-width="1"/>
<line x1="400.2" x2="400.2" y1="32.45" y2="36.45" stroke="#9c9c9c" stroke-width="1"/>
<line x1="490.4" x2="490.4" y1="359.25" y2="355.25" stroke="#9c9c9c" stroke-width="1"/>
<line x1="490.4" x2="490.4" y1="32.45" y2="36.45" stroke="#9c9c9c" stroke-width="1"/>
<line x1="609.6" x2="609.6" y1="359.25" y2="355.25" stroke="#9c9c9c" stroke-width="1"/>
<line x1="609.6" x2="609.6" y1="32.45" y2="36.45" stroke="#9c9c9c" stroke-width="1"/>
<line x1="243.5" x2="243.5" y1="359.25" y2="356.95" stroke="#111" stroke-width="0.9"/>
<line x1="243.5" x2="243.5" y1="32.45" y2="34.75" stroke="#111" stroke-width="0.9"/>
<line x1="281.0" x2="281.0" y1="359.25" y2="356.95" stroke="#111" stroke-width="0.9"/>
<line x1="281.0" x2="281.0" y1="32.45" y2="34.75" stroke="#111" stroke-width="0.9"/>
<line x1="333.7" x2="333.7" y1="359.25" y2="356.95" stroke="#111" stroke-width="0.9"/>
<line x1="333.7" x2="333.7" y1="32.45" y2="34.75" stroke="#111" stroke-width="0.9"/>
<line x1="353.8" x2="353.8" y1="359.25" y2="356.95" stroke="#111" stroke-width="0.9"/>
<line x1="353.8" x2="353.8" y1="32.45" y2="34.75" stroke="#111" stroke-width="0.9"/>
<line x1="371.2" x2="371.2" y1="359.25" y2="356.95" stroke="#111" stroke-width="0.9"/>
<line x1="371.2" x2="371.2" y1="32.45" y2="34.75" stroke="#111" stroke-width="0.9"/>
<line x1="386.5" x2="386.5" y1="359.25" y2="356.95" stroke="#111" stroke-width="0.9"/>
<line x1="386.5" x2="386.5" y1="32.45" y2="34.75" stroke="#111" stroke-width="0.9"/>
<line x1="543.1" x2="543.1" y1="359.25" y2="356.95" stroke="#111" stroke-width="0.9"/>
<line x1="543.1" x2="543.1" y1="32.45" y2="34.75" stroke="#111" stroke-width="0.9"/>
<line x1="580.6" x2="580.6" y1="359.25" y2="356.95" stroke="#111" stroke-width="0.9"/>
<line x1="580.6" x2="580.6" y1="32.45" y2="34.75" stroke="#111" stroke-width="0.9"/>
<line x1="87.0" x2="91.0" y1="347.8" y2="347.8" stroke="#9c9c9c" stroke-width="1"/>
<line x1="614.55" x2="610.55" y1="347.8" y2="347.8" stroke="#9c9c9c" stroke-width="1"/>
<line x1="87.0" x2="91.0" y1="305.2" y2="305.2" stroke="#9c9c9c" stroke-width="1"/>
<line x1="614.55" x2="610.55" y1="305.2" y2="305.2" stroke="#9c9c9c" stroke-width="1"/>
<line x1="87.0" x2="91.0" y1="275.0" y2="275.0" stroke="#9c9c9c" stroke-width="1"/>
<line x1="614.55" x2="610.55" y1="275.0" y2="275.0" stroke="#9c9c9c" stroke-width="1"/>
<line x1="87.0" x2="91.0" y1="232.3" y2="232.3" stroke="#9c9c9c" stroke-width="1"/>
<line x1="614.55" x2="610.55" y1="232.3" y2="232.3" stroke="#9c9c9c" stroke-width="1"/>
<line x1="87.0" x2="91.0" y1="178.6" y2="178.6" stroke="#9c9c9c" stroke-width="1"/>
<line x1="614.55" x2="610.55" y1="178.6" y2="178.6" stroke="#9c9c9c" stroke-width="1"/>
<line x1="87.0" x2="91.0" y1="143.3" y2="143.3" stroke="#9c9c9c" stroke-width="1"/>
<line x1="614.55" x2="610.55" y1="143.3" y2="143.3" stroke="#9c9c9c" stroke-width="1"/>
<line x1="87.0" x2="91.0" y1="105.8" y2="105.8" stroke="#9c9c9c" stroke-width="1"/>
<line x1="614.55" x2="610.55" y1="105.8" y2="105.8" stroke="#9c9c9c" stroke-width="1"/>
<line x1="87.0" x2="91.0" y1="63.2" y2="63.2" stroke="#9c9c9c" stroke-width="1"/>
<line x1="614.55" x2="610.55" y1="63.2" y2="63.2" stroke="#9c9c9c" stroke-width="1"/>
<line x1="87.0" x2="89.4" y1="337.8" y2="337.8" stroke="#111" stroke-width="0.9"/>
<line x1="614.8499999999999" x2="613.05" y1="337.8" y2="337.8" stroke="#111" stroke-width="0.9"/>
<line x1="87.0" x2="89.4" y1="328.6" y2="328.6" stroke="#111" stroke-width="0.9"/>
<line x1="614.8499999999999" x2="613.05" y1="328.6" y2="328.6" stroke="#111" stroke-width="0.9"/>
<line x1="87.0" x2="89.4" y1="320.2" y2="320.2" stroke="#111" stroke-width="0.9"/>
<line x1="614.8499999999999" x2="613.05" y1="320.2" y2="320.2" stroke="#111" stroke-width="0.9"/>
<line x1="87.0" x2="89.4" y1="312.4" y2="312.4" stroke="#111" stroke-width="0.9"/>
<line x1="614.8499999999999" x2="613.05" y1="312.4" y2="312.4" stroke="#111" stroke-width="0.9"/>
<line x1="87.0" x2="89.4" y1="298.4" y2="298.4" stroke="#111" stroke-width="0.9"/>
<line x1="614.8499999999999" x2="613.05" y1="298.4" y2="298.4" stroke="#111" stroke-width="0.9"/>
<line x1="87.0" x2="89.4" y1="292.0" y2="292.0" stroke="#111" stroke-width="0.9"/>
<line x1="614.8499999999999" x2="613.05" y1="292.0" y2="292.0" stroke="#111" stroke-width="0.9"/>
<line x1="87.0" x2="89.4" y1="286.0" y2="286.0" stroke="#111" stroke-width="0.9"/>
<line x1="614.8499999999999" x2="613.05" y1="286.0" y2="286.0" stroke="#111" stroke-width="0.9"/>
<line x1="87.0" x2="89.4" y1="280.3" y2="280.3" stroke="#111" stroke-width="0.9"/>
<line x1="614.8499999999999" x2="613.05" y1="280.3" y2="280.3" stroke="#111" stroke-width="0.9"/>
<line x1="87.0" x2="89.4" y1="202.1" y2="202.1" stroke="#111" stroke-width="0.9"/>
<line x1="614.8499999999999" x2="613.05" y1="202.1" y2="202.1" stroke="#111" stroke-width="0.9"/>
<line x1="87.0" x2="89.4" y1="159.5" y2="159.5" stroke="#111" stroke-width="0.9"/>
<line x1="614.8499999999999" x2="613.05" y1="159.5" y2="159.5" stroke="#111" stroke-width="0.9"/>
<line x1="87.0" x2="89.4" y1="129.3" y2="129.3" stroke="#111" stroke-width="0.9"/>
<line x1="614.8499999999999" x2="613.05" y1="129.3" y2="129.3" stroke="#111" stroke-width="0.9"/>
<line x1="87.0" x2="89.4" y1="116.9" y2="116.9" stroke="#111" stroke-width="0.9"/>
<line x1="614.8499999999999" x2="613.05" y1="116.9" y2="116.9" stroke="#111" stroke-width="0.9"/>
<line x1="87.0" x2="89.4" y1="95.8" y2="95.8" stroke="#111" stroke-width="0.9"/>
<line x1="614.8499999999999" x2="613.05" y1="95.8" y2="95.8" stroke="#111" stroke-width="0.9"/>
<line x1="87.0" x2="89.4" y1="86.6" y2="86.6" stroke="#111" stroke-width="0.9"/>
<line x1="614.8499999999999" x2="613.05" y1="86.6" y2="86.6" stroke="#111" stroke-width="0.9"/>
<line x1="87.0" x2="89.4" y1="78.2" y2="78.2" stroke="#111" stroke-width="0.9"/>
<line x1="614.8499999999999" x2="613.05" y1="78.2" y2="78.2" stroke="#111" stroke-width="0.9"/>
<line x1="87.0" x2="89.4" y1="70.4" y2="70.4" stroke="#111" stroke-width="0.9"/>
<line x1="614.8499999999999" x2="613.05" y1="70.4" y2="70.4" stroke="#111" stroke-width="0.9"/>
<line x1="87.0" x2="89.4" y1="56.4" y2="56.4" stroke="#111" stroke-width="0.9"/>
<line x1="614.8499999999999" x2="613.05" y1="56.4" y2="56.4" stroke="#111" stroke-width="0.9"/>
<line x1="87.0" x2="89.4" y1="50.0" y2="50.0" stroke="#111" stroke-width="0.9"/>
<line x1="614.8499999999999" x2="613.05" y1="50.0" y2="50.0" stroke="#111" stroke-width="0.9"/>
<line x1="87.0" x2="89.4" y1="44.0" y2="44.0" stroke="#111" stroke-width="0.9"/>
<line x1="614.8499999999999" x2="613.05" y1="44.0" y2="44.0" stroke="#111" stroke-width="0.9"/>
<line x1="87.0" x2="89.4" y1="38.3" y2="38.3" stroke="#111" stroke-width="0.9"/>
<line x1="614.8499999999999" x2="613.05" y1="38.3" y2="38.3" stroke="#111" stroke-width="0.9"/>
<text x="84.4" y="357.2" font-size="26.6" text-anchor="end">0.10</text>
<text x="84.4" y="314.6" font-size="26.6" text-anchor="end">0.15</text>
<text x="84.4" y="284.4" font-size="26.6" text-anchor="end">0.20</text>
<text x="84.4" y="241.7" font-size="26.6" text-anchor="end">0.30</text>
<text x="84.4" y="188.0" font-size="26.6" text-anchor="end">0.50</text>
<text x="84.4" y="152.7" font-size="26.6" text-anchor="end">0.70</text>
<text x="84.4" y="115.2" font-size="26.6" text-anchor="end">1.00</text>
<text x="84.4" y="72.6" font-size="26.6" text-anchor="end">1.50</text>
<text x="84.4" y="42.4" font-size="26.6" text-anchor="end">2.00</text>
<text x="100.6" y="385.8" font-size="26.6" text-anchor="middle">1</text>
<text x="190.8" y="385.8" font-size="26.6" text-anchor="middle">2</text>
<text x="310.0" y="385.8" font-size="26.6" text-anchor="middle">5</text>
<text x="400.2" y="385.8" font-size="26.6" text-anchor="middle">10</text>
<text x="490.4" y="385.8" font-size="26.6" text-anchor="middle">20</text>
<text x="609.6" y="385.8" font-size="26.6" text-anchor="middle">50</text>
<text x="350.3" y="422" font-size="26.6" font-style="italic" text-anchor="middle">N</text>
<text transform="translate(24.1,213.8) rotate(-90)" font-size="26.6">Δ</text>
<path d="M2.6,-8.6 C0.6,-6.6 -0.2,-2.6 1.6,-1.1 C3.8,0.7 8.0,-0.3 9.8,-3.3 C11.5,-6.3 10.8,-8.9 8.4,-8.9 C6.4,-8.9 5.6,-6.3 5.0,-3.6 L3.0,4.5" transform="translate(23.6,195.6) rotate(-90) scale(1.2,1.2)" fill="none" stroke="#000" stroke-width="1.5" vector-effect="non-scaling-stroke" stroke-linecap="round" stroke-linejoin="round"/>
<text x="367.6" y="208.7" font-size="22.5" text-anchor="end">0</text>
<text x="367.6" y="170.3" font-size="22.5" text-anchor="end">0.5</text>
<text x="367.6" y="131.9" font-size="22.5" text-anchor="end">1</text>
<text x="367.6" y="93.6" font-size="22.5" text-anchor="end">1.5</text>
<text x="483.0" y="225" font-size="22.5" text-anchor="middle">0</text>
<text x="584.7" y="225" font-size="22.5" text-anchor="middle">1</text>
<text x="387.0" y="225" font-size="22.5" text-anchor="middle">1</text>
<rect x="369.0" y="218.1" width="10.4" height="1.4" fill="#000"/>
<path d="M2.6,-8.6 C0.6,-6.6 -0.2,-2.6 1.6,-1.1 C3.8,0.7 8.0,-0.3 9.8,-3.3 C11.5,-6.3 10.8,-8.9 8.4,-8.9 C6.4,-8.9 5.6,-6.3 5.0,-3.6 L3.0,4.5" transform="translate(476.0,52.1) rotate(0) scale(1.0,1.0)" fill="none" stroke="#000" stroke-width="1.25" vector-effect="non-scaling-stroke" stroke-linecap="round" stroke-linejoin="round"/>
<text transform="translate(328.2,150.0) rotate(-90)" font-size="18.8" font-style="italic">p</text>
<text transform="translate(327.0,140.1) rotate(-90)" font-size="18.8">(</text>
<path d="M2.6,-8.6 C0.6,-6.6 -0.2,-2.6 1.6,-1.1 C3.8,0.7 8.0,-0.3 9.8,-3.3 C11.5,-6.3 10.8,-8.9 8.4,-8.9 C6.4,-8.9 5.6,-6.3 5.0,-3.6 L3.0,4.5" transform="translate(327.4,132.9) rotate(-90) scale(0.85,0.95)" fill="none" stroke="#000" stroke-width="1.2" vector-effect="non-scaling-stroke" stroke-linecap="round" stroke-linejoin="round"/>
<text transform="translate(327.0,120.9) rotate(-90)" font-size="18.8">)</text>
</svg></body></html>
